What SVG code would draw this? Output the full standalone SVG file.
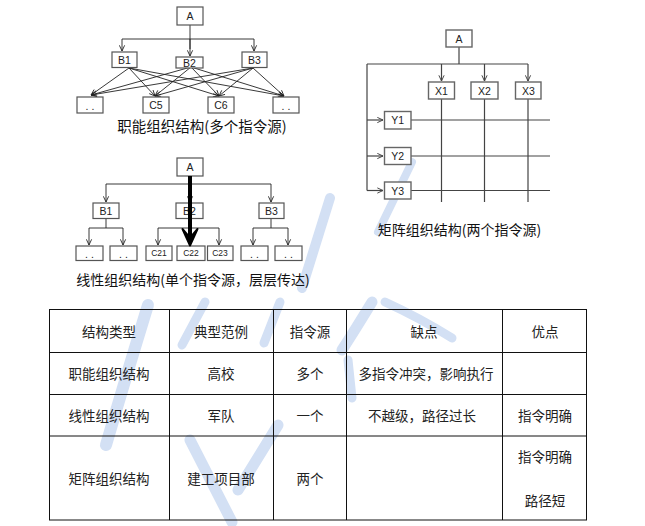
<svg xmlns="http://www.w3.org/2000/svg" width="645" height="526" viewBox="0 0 645 526">
<style>
.box{fill:#fff;stroke:#555;stroke-width:1.2}
.gbox{fill:#fff;stroke:#666;stroke-width:1.4}
.lbl{font-family:"Liberation Sans","DejaVu Sans",sans-serif;font-size:10.5px;fill:#222;text-anchor:middle;dominant-baseline:central}
.sm{font-size:8.5px}
.ln{fill:none;stroke:#222;stroke-width:0.9}
.gl{fill:none;stroke:#444;stroke-width:1.2}
.ttl{font-family:"Noto Sans CJK SC","Noto Sans",sans-serif;font-size:14.5px;fill:#111;text-anchor:middle;dominant-baseline:central}
.tc{font-family:"Noto Sans CJK SC","Noto Sans",sans-serif;font-size:13.5px;fill:#222;text-anchor:middle;dominant-baseline:central}
.grid{fill:none;stroke:#111;stroke-width:1}
.wm{fill:none;stroke:#d3e0f4;stroke-linecap:round}
</style>
<defs>
<marker id="ar" viewBox="0 0 8 8" refX="7.5" refY="4" markerWidth="7" markerHeight="7" markerUnits="userSpaceOnUse" orient="auto">
<path d="M1,1 L7.5,4 L1,7" fill="none" stroke="#222" stroke-width="1"/>
</marker>
<marker id="ag" viewBox="0 0 8 8" refX="7.5" refY="4" markerWidth="7" markerHeight="7" markerUnits="userSpaceOnUse" orient="auto">
<path d="M1,1 L7.5,4 L1,7" fill="none" stroke="#444" stroke-width="1.1"/>
</marker>
</defs>
<rect width="645" height="526" fill="#fff"/>
<g id="watermark">
<path class="wm" stroke-width="10" d="M330,198 L302,288"/>
<path class="wm" stroke-width="8" d="M412,162 L378,232"/>
<path class="wm" stroke-width="12" d="M148,305 Q125,380 106,445"/>
<path class="wm" stroke-width="9" d="M205,302 L182,345"/>
<path class="wm" stroke-width="9" d="M280,302 L264,343"/>
<path class="wm" stroke-width="11" d="M190,440 L232,522"/>
<path class="wm" stroke-width="11" d="M278,425 L238,490"/>
<path class="wm" stroke-width="11" d="M372,302 Q355,330 342,350"/>
<path class="wm" stroke-width="9" d="M385,302 Q420,318 452,338"/>
<path class="wm" stroke-width="9" d="M348,360 L352,398"/>
</g>
<g id="connectors">
<path class="ln" d="M190,25 V49"/>
<path class="ln" d="M122,39 H254"/>
<path class="ln" d="M122,39 V51" marker-end="url(#ar)"/>
<path class="ln" d="M190,39 V56" marker-end="url(#ar)"/>
<path class="ln" d="M254,39 V51" marker-end="url(#ar)"/>
<path class="ln" d="M129,68 L91,95" marker-end="url(#ar)"/>
<path class="ln" d="M129,68 L155,96" marker-end="url(#ar)"/>
<path class="ln" d="M129,68 L219,96" marker-end="url(#ar)"/>
<path class="ln" d="M129,68 L284,96" marker-end="url(#ar)"/>
<path class="ln" d="M191,67 L91,95" marker-end="url(#ar)"/>
<path class="ln" d="M191,67 L155,96" marker-end="url(#ar)"/>
<path class="ln" d="M191,67 L219,96" marker-end="url(#ar)"/>
<path class="ln" d="M191,67 L284,96" marker-end="url(#ar)"/>
<path class="ln" d="M253,68 L91,95" marker-end="url(#ar)"/>
<path class="ln" d="M253,68 L155,96" marker-end="url(#ar)"/>
<path class="ln" d="M253,68 L219,96" marker-end="url(#ar)"/>
<path class="ln" d="M253,68 L284,96" marker-end="url(#ar)"/>
<path class="ln" d="M106,184 H271"/>
<path class="ln" d="M106,184 V202" marker-end="url(#ar)"/>
<path class="ln" d="M190,184 V202" marker-end="url(#ar)"/>
<path class="ln" d="M271,184 V202" marker-end="url(#ar)"/>
<path class="ln" d="M106,218 V228 M89,228 H123"/>
<path class="ln" d="M89,228 V245" marker-end="url(#ar)"/>
<path class="ln" d="M123,228 V245" marker-end="url(#ar)"/>
<path class="ln" d="M158,228 H219"/>
<path class="ln" d="M158,228 V245" marker-end="url(#ar)"/>
<path class="ln" d="M219,228 V245" marker-end="url(#ar)"/>
<path class="ln" d="M271,218 V228 M253,228 H288"/>
<path class="ln" d="M253,228 V245" marker-end="url(#ar)"/>
<path class="ln" d="M288,228 V245" marker-end="url(#ar)"/>
<path class="gl" d="M459,47 V64 M367,64 H528 M367,64 V190.5"/>
<path class="gl" d="M441.5,64 V81" marker-end="url(#ag)"/>
<path class="gl" d="M484.5,64 V81" marker-end="url(#ag)"/>
<path class="gl" d="M528,64 V81" marker-end="url(#ag)"/>
<path class="gl" d="M367,120 H383" marker-end="url(#ag)"/>
<path class="gl" d="M367,156 H383" marker-end="url(#ag)"/>
<path class="gl" d="M367,190.5 H383" marker-end="url(#ag)"/>
<path class="gl" d="M411,120 H550 M411,156 H550 M411,190.5 H550"/>
<path class="gl" d="M441.5,99 V202 M484.5,99 V202 M528,99 V202"/>
</g>
<g id="n-tl-A"><rect class="box" x="177" y="7" width="26" height="18"/><text class="lbl" x="190" y="16">A</text></g>
<g id="n-tl-B1"><rect class="box" x="112" y="52" width="25" height="15.5"/><text class="lbl" x="124.5" y="60">B1</text></g>
<g id="n-tl-B2"><rect class="box" x="176" y="57" width="27" height="11"/><text class="lbl" x="189.5" y="62.5">B2</text></g>
<g id="n-tl-B3"><rect class="box" x="242" y="52" width="25" height="15.5"/><text class="lbl" x="254.5" y="60">B3</text></g>
<g id="n-tl-d1"><rect class="box" x="77" y="97" width="26" height="16"/><text class="lbl" x="90" y="106">. .</text></g>
<g id="n-tl-C5"><rect class="box" x="143" y="97" width="26" height="16"/><text class="lbl" x="156" y="105">C5</text></g>
<g id="n-tl-C6"><rect class="box" x="208" y="97" width="26" height="16"/><text class="lbl" x="221" y="105">C6</text></g>
<g id="n-tl-d2"><rect class="box" x="273" y="97" width="26" height="16"/><text class="lbl" x="286" y="106">. .</text></g>
<text class="ttl" x="202" y="125">职能组织结构(多个指令源)</text>
<g id="n-ll-A"><rect class="box" x="177" y="158" width="26" height="18"/><text class="lbl" x="190" y="167">A</text></g>
<g id="n-ll-B1"><rect class="box" x="93" y="203" width="26" height="15.5"/><text class="lbl" x="106" y="211">B1</text></g>
<g id="n-ll-B2"><rect class="box" x="176" y="203" width="27" height="15.5"/><text class="lbl" x="189.5" y="211">B2</text></g>
<g id="n-ll-B3"><rect class="box" x="259" y="203" width="25" height="15.5"/><text class="lbl" x="271.5" y="211">B3</text></g>
<g id="n-ll-d1"><rect class="box" x="76" y="246" width="27" height="14.5"/><text class="lbl" x="89.5" y="254">. .</text></g>
<g id="n-ll-d2"><rect class="box" x="110" y="246" width="27" height="14.5"/><text class="lbl" x="123.5" y="254">. .</text></g>
<g id="n-ll-C21"><rect class="box" x="146" y="246" width="26" height="14.5"/><text class="lbl sm" x="159" y="253">C21</text></g>
<g id="n-ll-C22"><rect class="box" x="177" y="246" width="28" height="14.5"/><text class="lbl sm" x="191" y="253">C22</text></g>
<g id="n-ll-C23"><rect class="box" x="207.5" y="246" width="25.5" height="14.5"/><text class="lbl sm" x="220" y="253">C23</text></g>
<g id="n-ll-d3"><rect class="box" x="241" y="246" width="27" height="14.5"/><text class="lbl" x="254.5" y="254">. .</text></g>
<g id="n-ll-d4"><rect class="box" x="275" y="246" width="27" height="14.5"/><text class="lbl" x="288.5" y="254">. .</text></g>
<g id="thick-arrow">
<path d="M190,176 V240" fill="none" stroke="#000" stroke-width="4"/>
<path d="M182.5,229 L190,245.5 L197.5,229 L190,238 Z" fill="#000" stroke="#000" stroke-width="2" stroke-linejoin="round"/>
</g>
<text class="ttl" x="193" y="278.5" style="font-size:14px">线性组织结构(单个指令源，层层传达)</text>
<g id="n-r-A"><rect class="gbox" x="446" y="30" width="26" height="17"/><text class="lbl" x="459" y="38.5">A</text></g>
<g id="n-r-X1"><rect class="gbox" x="428.5" y="82" width="26" height="17"/><text class="lbl" x="441.5" y="90.5">X1</text></g>
<g id="n-r-X2"><rect class="gbox" x="471" y="82" width="27" height="17"/><text class="lbl" x="484.5" y="90.5">X2</text></g>
<g id="n-r-X3"><rect class="gbox" x="515.5" y="82" width="25.5" height="17"/><text class="lbl" x="528.3" y="90.5">X3</text></g>
<g id="n-r-Y1"><rect class="gbox" x="384.5" y="111.5" width="26.5" height="17.5"/><text class="lbl" x="397.7" y="120.3">Y1</text></g>
<g id="n-r-Y2"><rect class="gbox" x="384.5" y="147.5" width="26.5" height="17"/><text class="lbl" x="397.7" y="156">Y2</text></g>
<g id="n-r-Y3"><rect class="gbox" x="384.5" y="182" width="26.5" height="17"/><text class="lbl" x="397.7" y="190.5">Y3</text></g>
<text class="ttl" x="459.5" y="228.5" style="font-size:14px">矩阵组织结构(两个指令源)</text>
<g id="table">
<rect class="grid" x="49.5" y="309.5" width="537" height="210.5"/>
<path class="grid" d="M169.5,309.5 V520 M273.5,309.5 V520 M346.5,309.5 V520 M502.5,309.5 V520 M49.5,352.5 H586.5 M49.5,394.5 H586.5 M49.5,436 H586.5"/>
<text class="tc" x="109" y="331">结构类型</text>
<text class="tc" x="221" y="331">典型范例</text>
<text class="tc" x="310" y="331">指令源</text>
<text class="tc" x="424" y="331">缺点</text>
<text class="tc" x="545" y="331">优点</text>
<text class="tc" x="109" y="373">职能组织结构</text>
<text class="tc" x="221" y="373">高校</text>
<text class="tc" x="310" y="373">多个</text>
<text class="tc" x="426" y="373">多指令冲突，影响执行</text>
<text class="tc" x="109" y="415">线性组织结构</text>
<text class="tc" x="221" y="415">军队</text>
<text class="tc" x="310" y="415">一个</text>
<text class="tc" x="422" y="415">不越级，路径过长</text>
<text class="tc" x="545" y="415">指令明确</text>
<text class="tc" x="109" y="478">矩阵组织结构</text>
<text class="tc" x="221" y="478">建工项目部</text>
<text class="tc" x="310" y="478">两个</text>
<text class="tc" x="545" y="456">指令明确</text>
<text class="tc" x="545" y="500">路径短</text>
</g>
</svg>
